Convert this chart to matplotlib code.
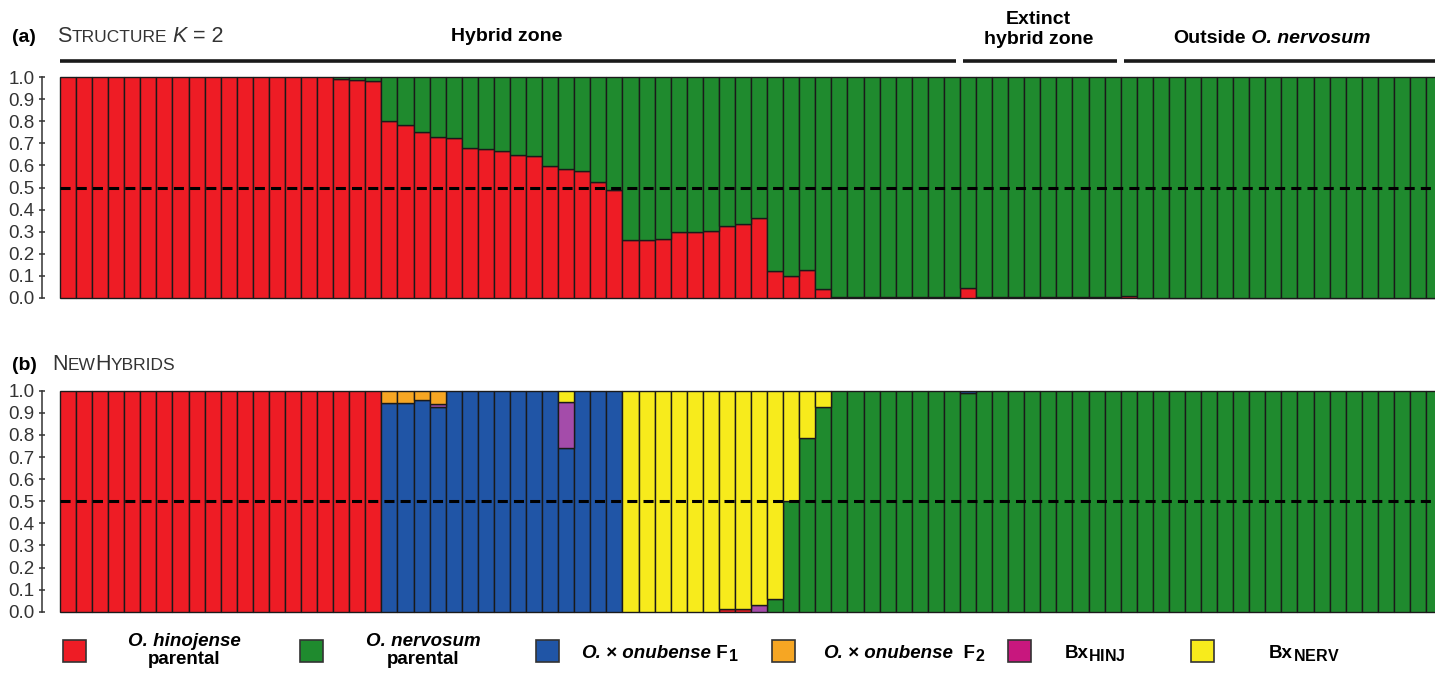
import matplotlib
matplotlib.use("Agg")
import matplotlib.pyplot as plt
import numpy as np
from matplotlib.patches import Rectangle
from matplotlib.offsetbox import TextArea, HPacker, AnnotationBbox

plt.rcParams["font.family"] = ["Liberation Sans", "DejaVu Sans"]

# -------------------------
# Data (one value per individual, 86 individuals)
# -------------------------
# (a) STRUCTURE K = 2 : membership in the O. hinojense cluster
structure_hinojense = ([1.0] * 17 + [0.99, 0.985, 0.98,
                       0.80, 0.784, 0.751, 0.73, 0.724, 0.68, 0.674, 0.664, 0.649, 0.644,
                       0.596, 0.584, 0.573, 0.523, 0.49, 0.264, 0.261, 0.267, 0.30, 0.30,
                       0.305, 0.327, 0.336, 0.362, 0.121, 0.098, 0.128, 0.041]
                       + [0.006] * 8 + [0.044] + [0.004] * 9 + [0.008] + [0.002] * 19)

# (b) NewHybrids posterior probabilities per genotype class
nh_hinojense = [1.0] * 20 + [0.0] * 21 + [0.01, 0.012] + [0.0] * 43
nh_nervosum = [0.0] * 44 + [0.056, 0.50, 0.784, 0.925] + [1.0] * 8 + [0.988] + [1.0] * 29
nh_f1 = ([0.0] * 20 + [0.943, 0.946, 0.96, 0.925] + [1.0] * 7 + [0.74] + [1.0] * 3
         + [0.0] * 21 + [0.012] + [0.0] * 29)
nh_bx_hinj = [0.0] * 23 + [0.015] + [0.0] * 7 + [0.21] + [0.0] * 11 + [0.03] + [0.0] * 42
nh_f2 = [0.0] * 20 + [0.057, 0.054, 0.04, 0.06] + [0.0] * 62
nh_bx_nerv = ([0.0] * 31 + [0.05] + [0.0] * 3 + [1.0] * 6
              + [0.99, 0.988, 0.97, 0.944, 0.50, 0.216, 0.075] + [0.0] * 38)

groups = ["Hybrid zone", "Extinct\nhybrid zone", "Outside O. nervosum"]
group_edges = [-0.5, 55.5, 65.5, 86.0]
yticks = [0.0, 0.1, 0.2, 0.3, 0.4, 0.5, 0.6, 0.7, 0.8, 0.9, 1.0]

RED = "#ee1c25"
GREEN = "#1f8a2e"
BLUE = "#2055a6"
PURPLE = "#a44caa"
MAGENTA = "#c8177e"
ORANGE = "#f6a623"
YELLOW = "#f7eb1c"
EDGE = "#1a1a1a"

# -------------------------
# Figure
# -------------------------
W, H = 1435, 673
fig = plt.figure(figsize=(W / 100, H / 100), dpi=100)


def fpos(px, py):
    return px / W, 1 - py / H


ax_a = fig.add_axes([60 / W, 1 - 298 / H, (W - 60) / W, 221 / H])
ax_b = fig.add_axes([60 / W, 1 - 611.7 / H, (W - 60) / W, 221 / H])

x = np.arange(len(structure_hinojense))


def stacked(ax, layers):
    bottom = np.zeros(len(x))
    for vals, color in layers:
        vals = np.asarray(vals, dtype=float)
        m = vals > 0
        ax.bar(x[m], vals[m], bottom=bottom[m], width=1.0, color=color,
               edgecolor=EDGE, linewidth=1.0, clip_on=False)
        bottom += vals


q = np.asarray(structure_hinojense)
stacked(ax_a, [(q, RED), (1 - q, GREEN)])
stacked(ax_b, [(nh_hinojense, RED), (nh_nervosum, GREEN), (nh_f1, BLUE),
               (nh_bx_hinj, PURPLE), (nh_f2, ORANGE), (nh_bx_nerv, YELLOW)])

for ax in (ax_a, ax_b):
    ax.set_xlim(-0.5, 85.06)
    ax.set_ylim(0, 1)
    ax.axhline(0.5, color="black", lw=2.2, ls=(0, (3.3, 2.0)), zorder=5)
    for s in ("top", "right", "bottom"):
        ax.spines[s].set_visible(False)
    ax.spines["left"].set_position(("outward", 13))
    ax.spines["left"].set_bounds(0, 1)
    ax.spines["left"].set_color("#333333")
    ax.spines["left"].set_linewidth(1.1)
    ax.set_xticks([])
    ax.set_yticks(yticks)
    ax.set_yticklabels([f"{v:.1f}" for v in yticks])
    ax.tick_params(axis="y", direction="inout", length=5, width=1.1, color="#333333",
                   labelsize=13.5, labelcolor="#333333", pad=3)


def rich(pieces, xy, xycoords="figure fraction", align=(0.0, 0.5), color="black"):
    boxes = []
    for text, size, style, weight in pieces:
        boxes.append(TextArea(text, textprops=dict(fontsize=size, fontstyle=style,
                                                   fontweight=weight, color=color)))
    pack = HPacker(children=boxes, align="baseline", pad=0, sep=0)
    ab = AnnotationBbox(pack, xy, xycoords=xycoords, frameon=False,
                        box_alignment=align, pad=0, annotation_clip=False)
    fig.add_artist(ab)


# Panel titles (small caps built from two sizes)
fig.text(*fpos(12, 37), "(a)", fontsize=14, fontweight="bold", va="center")
rich([("S", 15.5, "normal", "normal"), ("TRUCTURE", 12.5, "normal", "normal"),
      (" K", 15.5, "italic", "normal"), (" = 2", 15.5, "normal", "normal")],
     fpos(57, 37), color="#333333")
fig.text(*fpos(12, 365), "(b)", fontsize=14, fontweight="bold", va="center")
rich([("N", 15.5, "normal", "normal"), ("EW", 12.5, "normal", "normal"),
      ("H", 15.5, "normal", "normal"), ("YBRIDS", 12.5, "normal", "normal")],
     fpos(52, 365), color="#333333")

# Sampling-area headers above panel (a)
tr = ax_a.get_xaxis_transform()
gap = 0.22
for i in range(3):
    ax_a.plot([group_edges[i] + (gap if i else 0), group_edges[i + 1] - gap], [1.074, 1.074],
              transform=tr, color=EDGE, lw=2.6, clip_on=False, solid_capstyle="butt")
ax_a.text(27.3, 1.181, groups[0], transform=tr, ha="center", va="center",
          fontsize=14, fontweight="bold")
ax_a.text(60.4, 1.215, groups[1], transform=tr, ha="center", va="center",
          fontsize=14, fontweight="bold", linespacing=1.3)
rich([("Outside", 14, "normal", "bold"), (" O. nervosum", 14, "italic", "bold")],
     (74.9, 1.176), xycoords=tr, align=(0.5, 0.5))

# Legend
SUB = 16.5  # mathtext shrinks subscripts, so the subscript piece is set larger
legend_items = [
    (63, RED, [[("O. hinojense", "italic", 13.5)], [("parental", "normal", 13.5)]], 184),
    (300, GREEN, [[("O. nervosum", "italic", 13.5)], [("parental", "normal", 13.5)]], 423),
    (536, BLUE, [[("O.", "italic", 13.5), (" \u00d7", "normal", 13.5),
                  (" onubense", "italic", 13.5), (" F", "normal", 13.5),
                  (r"$_{\mathdefault{1}}$", "normal", SUB)]], 660),
    (772, ORANGE, [[("O.", "italic", 13.5), (" \u00d7", "normal", 13.5),
                    (" onubense", "italic", 13.5), ("  F", "normal", 13.5),
                    (r"$_{\mathdefault{2}}$", "normal", SUB)]], 904),
    (1008, MAGENTA, [[("Bx", "normal", 13.5), (r"$_{\mathdefault{HINJ}}$", "normal", SUB)]], 1095),
    (1191, YELLOW, [[("Bx", "normal", 13.5), (r"$_{\mathdefault{NERV}}$", "normal", SUB)]], 1304),
]
for px, color, lines, cx in legend_items:
    fig.add_artist(Rectangle(fpos(px, 662), 23 / W, 22 / H, transform=fig.transFigure,
                             facecolor=color, edgecolor="#333333", lw=1.2))
    ys = [641, 660] if len(lines) == 2 else [652]
    for line, y in zip(lines, ys):
        rich([(t, size, st, "bold") for t, st, size in line], fpos(cx, y), align=(0.5, 0.5))

fig.savefig("out.png", dpi=100)
